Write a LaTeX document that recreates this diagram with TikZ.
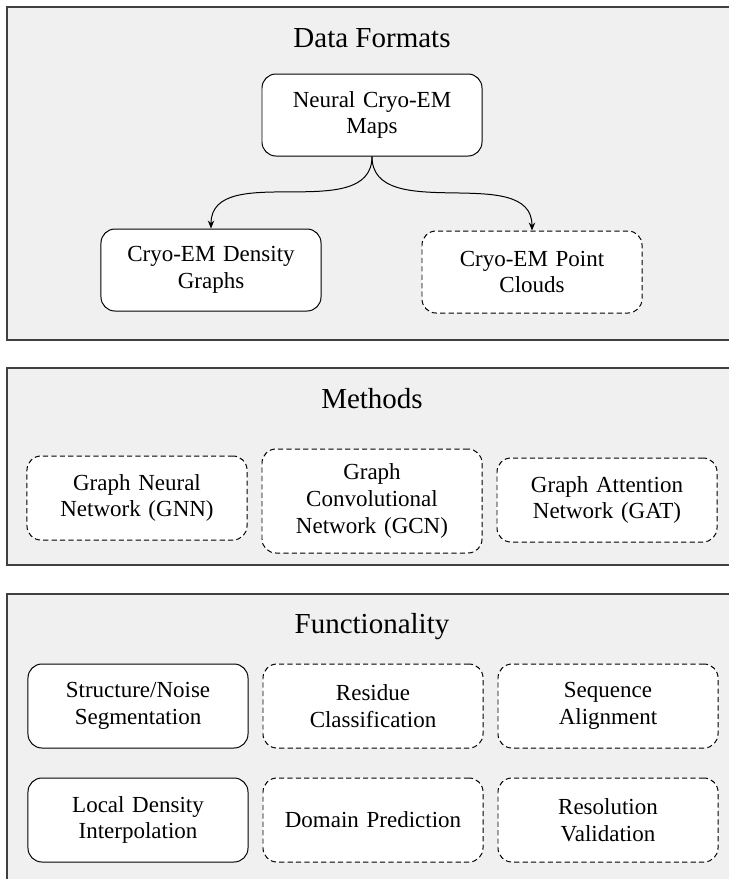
\documentclass[tikz,border=0pt]{standalone}
\usepackage{fontspec}
\setmainfont{Liberation Serif}
\usetikzlibrary{arrows.meta, positioning}

\tikzset{
    panel/.style={draw=black!75, fill=black!6, line width=0.6pt},
    title/.style={anchor=base, font=\fontsize{14.5bp}{17bp}\selectfont},
    solidbox/.style={draw, fill=white, rounded corners=7bp, line width=0.5pt,
        minimum width=110bp, minimum height=41bp, text width=104bp, inner sep=0pt,
        align=center, font=\fontsize{11.5bp}{13.4bp}\selectfont},
    dashbox/.style={solidbox, dash pattern=on 2.6bp off 1.6bp},
    link/.style={-{Stealth[length=4bp, width=3.2bp]}, line width=0.5pt}
}

\begin{document}
\begin{tikzpicture}[x=0.5bp, y=-0.5bp]
    \useasboundingbox (0,0) rectangle (729,879);
    \clip (0,0) rectangle (729,879);

    % Panels
    \draw[panel] (7,7) rectangle (740,340);
    \draw[panel] (7,368) rectangle (740,565);
    \draw[panel] (7,594) rectangle (740,900);

    % Data formats
    \node[title] (formats) at (372,47) {Data Formats};
    \node[solidbox] (maps) at (372,115) {Neural Cryo-EM\\Maps};
    \node[solidbox] (graphs) at (211,270) {Cryo-EM Density\\Graphs};
    \node[dashbox] (clouds) at (532,272) {Cryo-EM Point\\Clouds};

    \draw[link] (maps.south) to[out=-90, in=90] (graphs.north);
    \draw[link] (maps.south) to[out=-90, in=90] (clouds.north);

    % Methods
    \node[title] (methods) at (372,408) {Methods};
    \node[dashbox, minimum height=42bp] (gnn) at (137,498) {Graph Neural\\Network (GNN)};
    \node[dashbox, minimum height=52bp] (gcn) at (372,501) {Graph\\Convolutional\\Network (GCN)};
    \node[dashbox, minimum height=42bp] (gat) at (607,500) {Graph Attention\\Network (GAT)};

    % Functionality
    \node[title] (functions) at (372,633) {Functionality};
    \node[solidbox, minimum height=42bp] (segment) at (138,706) {Structure/Noise\\Segmentation};
    \node[dashbox, minimum height=42bp] (residue) at (373,706) {Residue\\Classification};
    \node[dashbox, minimum height=42bp] (sequence) at (608,706) {Sequence\\Alignment};

    \node[solidbox, minimum height=42bp] (interp) at (138,820) {Local Density\\Interpolation};
    \node[dashbox, minimum height=42bp] (domain) at (373,820) {Domain Prediction};
    \node[dashbox, minimum height=42bp] (resol) at (608,820) {Resolution\\Validation};
\end{tikzpicture}
\end{document}
